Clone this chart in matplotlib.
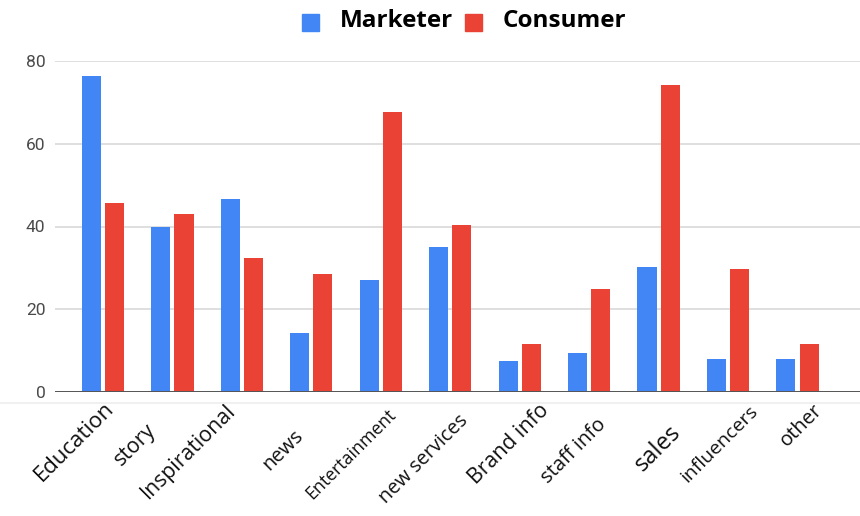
import numpy as np
from matplotlib import pyplot as plt
from matplotlib.patches import Rectangle
from matplotlib.lines import Line2D

categories = ['Education', 'story', 'Inspirational', 'news', 'Entertainment', 'new services',
              'Brand info', 'staff info', 'sales', 'influencers', 'other']
marketer = [76.3, 39.8, 46.7, 14.2, 27.0, 35.0, 7.6, 9.4, 30.2, 8.0, 8.0]
consumer = [45.6, 43.0, 32.4, 28.4, 67.7, 40.3, 11.6, 24.8, 74.3, 29.8, 11.6]
y_ticks = [0, 20, 40, 60, 80]

# per-label look: font size (pt) and offset of the label end from the tick (px)
label_sizes = [16, 15.3, 15.3, 14.5, 12.8, 14.2, 15.3, 14.5, 17, 14, 14.5]
label_dx = [1, -27, -17, -18, 6, 8, 19, 7, 10, 21, 15]
label_dy = [6, 28, 8, 34, 14, 19, 8, 23, 28, 10, 8]

BLUE = '#4285F4'
RED = '#EA4335'

plt.rcParams['font.family'] = ['Open Sans', 'DejaVu Sans']

fig = plt.figure(figsize=(8.6, 5.16), dpi=100)
ax = fig.add_axes([55 / 860, 1 - 392 / 516, 1 - 55 / 860, (392 - 61) / 516])

x = np.arange(len(categories))
w = 0.275
off = 0.167
ax.bar(x - off, marketer, w, color=BLUE, zorder=3)
ax.bar(x + off, consumer, w, color=RED, zorder=3)

ax.set_xlim(-0.69, 10.9)
ax.set_ylim(0, 80)
ax.set_yticks(y_ticks)
ax.set_yticklabels([str(v) for v in y_ticks], family='Roboto', fontsize=12.5, color='#4a4a4a')
ax.tick_params(axis='y', length=0, pad=7)
ax.set_xticks([])
for s in ax.spines.values():
    s.set_visible(False)
ax.grid(axis='y', color='#d6d6d6', linewidth=1.1, zorder=0)
ax.axhline(0, color='#555555', linewidth=1.4, zorder=4)

# rotated category labels under each group
for i, name in enumerate(categories):
    ax.annotate(name, xy=(i, 0), xycoords='data',
                xytext=(label_dx[i], -label_dy[i]), textcoords='offset pixels',
                rotation=45, rotation_mode='anchor', ha='right', va='top',
                fontsize=label_sizes[i], color='#111111', annotation_clip=False)

# faint rule under the plot area
fig.add_artist(Line2D([0, 1], [1 - 403 / 516, 1 - 403 / 516], color='#eeeeee', linewidth=1.2))

# legend across the top
fig.add_artist(Rectangle((302 / 860, 1 - 31 / 516), 17 / 860, 17 / 516, color=BLUE))
fig.text(340 / 860, 1 - 21 / 516, 'Marketer', fontsize=17.5, fontweight='bold', va='center', ha='left')
fig.add_artist(Rectangle((465 / 860, 1 - 31 / 516), 17 / 860, 17 / 516, color=RED))
fig.text(503 / 860, 1 - 21 / 516, 'Consumer', fontsize=17.5, fontweight='bold', va='center', ha='left')

fig.savefig('out.png', dpi=100)
